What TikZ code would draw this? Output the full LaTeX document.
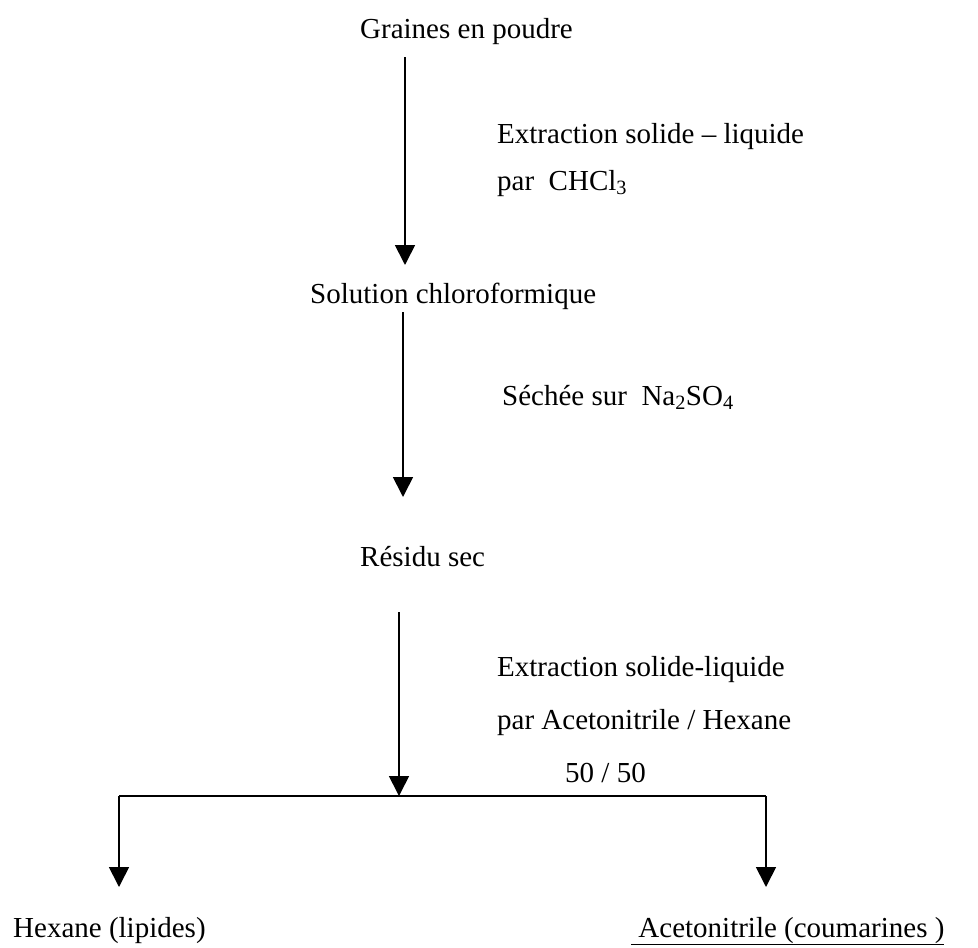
\documentclass[tikz,border=0pt]{standalone}
\usepackage{fontspec}
\setmainfont{Liberation Serif}
\usetikzlibrary{arrows.meta}
\begin{document}
\begin{tikzpicture}[x=1pt,y=-1pt,
  lbl/.style={inner sep=0pt,anchor=base west,font=\fontsize{29}{34}\selectfont},
  flow/.style={line width=1.7pt,-{Triangle[width=20pt,length=20pt]}},
  rail/.style={line width=1.7pt}]
\useasboundingbox (0,0) rectangle (978,948);

% products and intermediates
\node[lbl] (graines)  at (360,38)  {Graines en poudre};
\node[lbl] (solution) at (310,303) {Solution chloroformique};
\node[lbl] (residu)   at (360,566) {Résidu sec};
\node[lbl] (hexane)   at (13,937)  {Hexane (lipides)};
\node[lbl] (acn)      at (631,937) {\underline{\ Acetonitrile (coumarines )}};

% operating conditions
\node[lbl] (c1a) at (497,143) {Extraction solide – liquide};
\node[lbl] (c1b) at (497,190) {par\ \ CHCl\textsubscript{3}};
\node[lbl] (c2)  at (502,405) {Séchée sur\ \ Na\textsubscript{2}SO\textsubscript{4}};
\node[lbl] (c3a) at (497,676) {Extraction solide-liquide};
\node[lbl] (c3b) at (497,729) {par Acetonitrile / Hexane};
\node[lbl] (c3c) at (565,782) {50 / 50};

% connector end points
\coordinate (a1s) at (405,57);
\coordinate (a1e) at (405,265);
\coordinate (a2s) at (403,312);
\coordinate (a2e) at (403,497);
\coordinate (a3s) at (399,612);
\coordinate (split) at (399,796);
\coordinate (splitL) at (119,796);
\coordinate (splitR) at (766,796);
\coordinate (hexTop) at (119,887);
\coordinate (acnTop) at (766,887);

\draw[flow] (a1s) -- (a1e);
\draw[flow] (a2s) -- (a2e);
\draw[flow] (a3s) -- (split);
\draw[rail] (splitL) -- (splitR);
\draw[flow] (splitL) -- (hexTop);
\draw[flow] (splitR) -- (acnTop);
\end{tikzpicture}
\end{document}
